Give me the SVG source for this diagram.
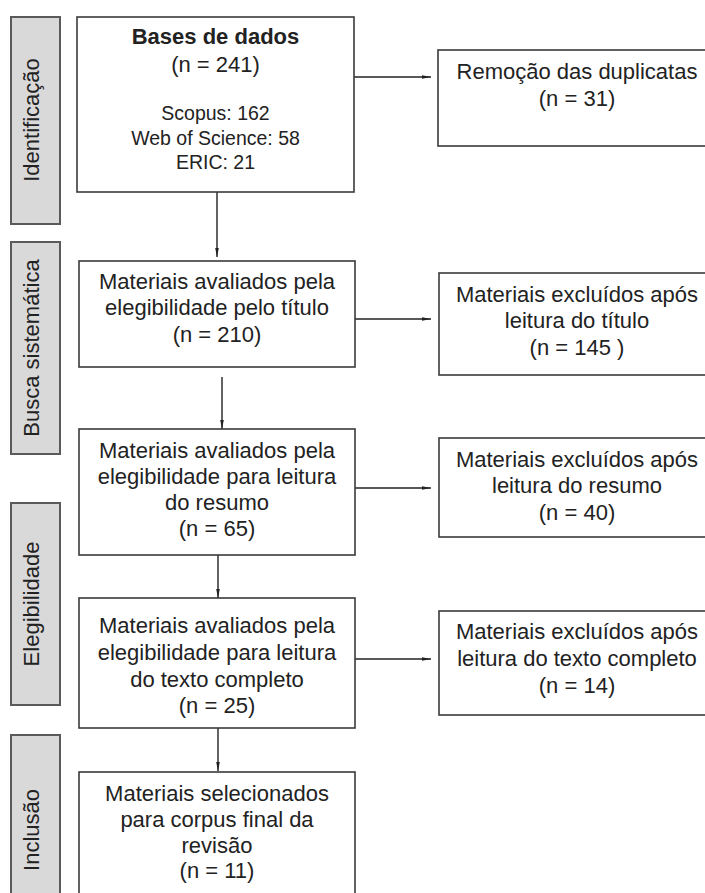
<svg xmlns="http://www.w3.org/2000/svg" width="705" height="893" viewBox="0 0 705 893">
<style>
.bar{fill:#d9d9d9;stroke:#5a5a5a;stroke-width:2}
.box{fill:#ffffff;stroke:#3a3a3a;stroke-width:1.6}
.t{font-family:"Liberation Sans",Arial,sans-serif;font-size:22px;fill:#222;text-anchor:middle}
.s{font-size:19.5px}
.b{font-weight:bold}
.c{fill:none;stroke:#222;stroke-width:1.4}
</style>
<defs>
<marker id="ah" markerWidth="10" markerHeight="6" refX="9" refY="3" orient="auto" markerUnits="userSpaceOnUse">
<path d="M0,1.2 L9,3 L0,4.8 Z" fill="#222"/>
</marker>
</defs>
<rect width="705" height="893" fill="#ffffff"/>
<g id="phases">
<g id="phase-identificacao"><rect class="bar" x="11" y="17" width="49" height="207"/><text class="t" transform="translate(39,120) rotate(-90)">Identificação</text></g>
<g id="phase-busca"><rect class="bar" x="11" y="242" width="49" height="212"/><text class="t" transform="translate(39,348) rotate(-90)">Busca sistemática</text></g>
<g id="phase-elegibilidade"><rect class="bar" x="11" y="503" width="49" height="202"/><text class="t" transform="translate(39,604) rotate(-90)">Elegibilidade</text></g>
<g id="phase-inclusao"><rect class="bar" x="11" y="735" width="49" height="190"/><text class="t" transform="translate(39,830) rotate(-90)">Inclusão</text></g>
</g>
<g id="connectors">
<line class="c" x1="354" y1="77" x2="431" y2="77" marker-end="url(#ah)"/>
<line class="c" x1="217" y1="177" x2="217" y2="257" marker-end="url(#ah)"/>
<line class="c" x1="355" y1="319" x2="431" y2="319" marker-end="url(#ah)"/>
<line class="c" x1="222" y1="377" x2="222" y2="429" marker-end="url(#ah)"/>
<line class="c" x1="355" y1="488" x2="431" y2="488" marker-end="url(#ah)"/>
<line class="c" x1="218" y1="547" x2="218" y2="598" marker-end="url(#ah)"/>
<line class="c" x1="355" y1="659" x2="431" y2="659" marker-end="url(#ah)"/>
<line class="c" x1="218" y1="715" x2="218" y2="771" marker-end="url(#ah)"/>
</g>
<g id="n-bases"><rect class="box" x="77" y="17" width="277" height="175"/>
<text class="t b" x="215.5" y="44">Bases de dados</text>
<text class="t" x="215.5" y="72">(n = 241)</text>
<text class="t s" x="215.5" y="120">Scopus: 162</text>
<text class="t s" x="215.5" y="145">Web of Science: 58</text>
<text class="t s" x="215.5" y="169">ERIC: 21</text></g>
<g id="n-remocao"><rect class="box" x="438" y="50" width="278" height="96"/>
<text class="t" x="577" y="79">Remoção das duplicatas</text>
<text class="t" x="577" y="106">(n = 31)</text></g>
<g id="n-titulo"><rect class="box" x="79" y="261" width="276" height="106"/>
<text class="t" x="217" y="289">Materiais avaliados pela</text>
<text class="t" x="217" y="315">elegibilidade pelo título</text>
<text class="t" x="217" y="342">(n = 210)</text></g>
<g id="n-excl-titulo"><rect class="box" x="439" y="273" width="278" height="102"/>
<text class="t" x="577" y="302">Materiais excluídos após</text>
<text class="t" x="577" y="328">leitura do título</text>
<text class="t" x="577" y="355">(n = 145 )</text></g>
<g id="n-resumo"><rect class="box" x="79" y="429" width="276" height="126"/>
<text class="t" x="217" y="458">Materiais avaliados pela</text>
<text class="t" x="217" y="484">elegibilidade para leitura</text>
<text class="t" x="217" y="510">do resumo</text>
<text class="t" x="217" y="536">(n = 65)</text></g>
<g id="n-excl-resumo"><rect class="box" x="439" y="438" width="278" height="99"/>
<text class="t" x="577" y="467">Materiais excluídos após</text>
<text class="t" x="577" y="493">leitura do resumo</text>
<text class="t" x="577" y="520">(n = 40)</text></g>
<g id="n-texto"><rect class="box" x="79" y="598" width="276" height="130"/>
<text class="t" x="217" y="633">Materiais avaliados pela</text>
<text class="t" x="217" y="660">elegibilidade para leitura</text>
<text class="t" x="217" y="687">do texto completo</text>
<text class="t" x="217" y="713">(n = 25)</text></g>
<g id="n-excl-texto"><rect class="box" x="439" y="611" width="278" height="104"/>
<text class="t" x="577" y="639">Materiais excluídos após</text>
<text class="t" x="577" y="666">leitura do texto completo</text>
<text class="t" x="577" y="693">(n = 14)</text></g>
<g id="n-final"><rect class="box" x="79" y="772" width="276" height="140"/>
<text class="t" x="217" y="801">Materiais selecionados</text>
<text class="t" x="217" y="827">para corpus final da</text>
<text class="t" x="217" y="853">revisão</text>
<text class="t" x="217" y="878">(n = 11)</text></g>
</svg>
